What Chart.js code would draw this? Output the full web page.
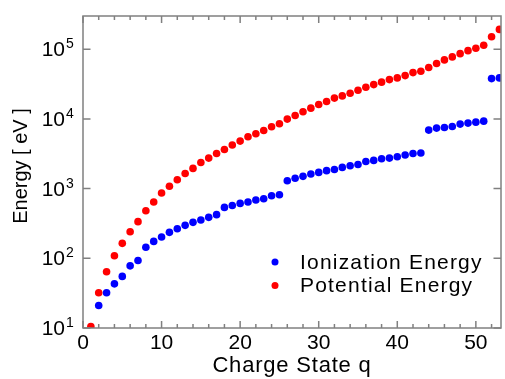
<!DOCTYPE html>
<html>
<head>
<meta charset="utf-8">
<script src="https://cdn.jsdelivr.net/npm/chart.js@4.4.0/dist/chart.umd.min.js"></script>
<style>
  html, body { margin: 0; padding: 0; background: #fff; }
  #wrap { width: 505px; height: 379px; }
</style>
</head>
<body>
<div id="wrap"><canvas id="chart" width="505" height="379"></canvas></div>
<script>
// charge state q for the potential energy series (1..53)
const chargeStates = [1, 2, 3, 4, 5, 6, 7, 8, 9, 10, 11, 12, 13, 14, 15, 16, 17, 18, 19, 20,
  21, 22, 23, 24, 25, 26, 27, 28, 29, 30, 31, 32, 33, 34, 35, 36, 37, 38, 39, 40,
  41, 42, 43, 44, 45, 46, 47, 48, 49, 50, 51, 52, 53];
// ionization energy starts at q = 2 in the plot
const ionStates = [2, 3, 4, 5, 6, 7, 8, 9, 10, 11, 12, 13, 14, 15, 16, 17, 18, 19, 20,
  21, 22, 23, 24, 25, 26, 27, 28, 29, 30, 31, 32, 33, 34, 35, 36, 37, 38, 39, 40,
  41, 42, 43, 44, 45, 46, 47, 48, 49, 50, 51, 52, 53];
const ionizationEnergy = [21, 32, 43, 55, 78, 93, 144, 175, 202, 236,
  266, 297, 328, 355, 387, 423, 538, 574, 614, 643,
  687, 717, 791, 818, 1300, 1410, 1500, 1620, 1710, 1810,
  1880, 2015, 2130, 2220, 2450, 2540, 2680, 2740, 2860, 3030,
  3190, 3240, 6920, 7390, 7540, 7790, 8430, 8710, 9000, 9300,
  37900, 38800];
const potentialEnergy = [10.5, 32, 64, 109, 164, 241, 336, 482, 643, 865,
  1080, 1340, 1650, 1950, 2370, 2740, 3190, 3640, 4220, 4810,
  5540, 6120, 6830, 7710, 8510, 9940, 11190, 12650, 14290, 16100,
  17800, 19900, 21400, 23400, 25850, 28550, 31100, 33700, 36700, 38800,
  41900, 46200, 48400, 54600, 62300, 70300, 77600, 86500, 95500, 103300,
  114100, 151500, 192800];

const xMajorTicks = [0, 10, 20, 30, 40, 50];
const xMinorTicks = [2, 4, 6, 8, 12, 14, 16, 18, 22, 24, 26, 28, 32, 34, 36, 38, 42, 44, 46, 48, 52];
const yTickExps = [1, 2, 3, 4, 5];

const FONT = '"Liberation Sans", Arial, Helvetica, sans-serif';
const axisColor = '#808080';

// wrap a scale's title drawing to nudge spacing/position a bit
function tweakTitle(scale, spacing, dy) {
  if (scale._titleWrapped) return;
  const orig = scale.drawTitle;
  scale.drawTitle = function () {
    this.ctx.save();
    this.ctx.letterSpacing = spacing;
    this.ctx.translate(0, dy);
    orig.call(this);
    this.ctx.restore();
  };
  scale._titleWrapped = true;
}

// inward ticks on all four sides, 10^n labels, in-plot legend
const framePlugin = {
  id: 'frame',
  afterDraw(chart) {
    const { ctx, chartArea: a, scales: { x, y } } = chart;
    ctx.save();
    ctx.strokeStyle = axisColor;
    ctx.lineWidth = 1.5;
    ctx.strokeRect(a.left, a.top, a.right - a.left, a.bottom - a.top);
    ctx.beginPath();
    xMajorTicks.concat(xMinorTicks).forEach((v) => {
      const px = x.getPixelForValue(v);
      const len = xMajorTicks.includes(v) ? 7 : 4;
      ctx.moveTo(px, a.bottom); ctx.lineTo(px, a.bottom - len);
      ctx.moveTo(px, a.top); ctx.lineTo(px, a.top + len);
    });
    yTickExps.forEach((e) => {
      const py = y.getPixelForValue(Math.pow(10, e));
      ctx.moveTo(a.left, py); ctx.lineTo(a.left + 7.5, py);
      ctx.moveTo(a.right, py); ctx.lineTo(a.right - 7.5, py);
    });
    ctx.stroke();

    ctx.fillStyle = '#000';
    ctx.textBaseline = 'alphabetic';
    yTickExps.forEach((e) => {
      const py = y.getPixelForValue(Math.pow(10, e));
      ctx.font = '21px ' + FONT;
      ctx.textAlign = 'right';
      ctx.fillText('10', 65, py + 7);
      ctx.font = '14px ' + FONT;
      ctx.textAlign = 'left';
      ctx.fillText(String(e), 66, py - 1);
    });

    // legend
    const rows = [{ y: 262, ds: chart.data.datasets[0] }, { y: 285.5, ds: chart.data.datasets[1] }];
    ctx.font = '21px ' + FONT;
    ctx.letterSpacing = '1.2px';
    ctx.textAlign = 'left';
    ctx.textBaseline = 'middle';
    rows.forEach((r) => {
      ctx.fillStyle = r.ds.backgroundColor;
      ctx.beginPath();
      ctx.arc(275, r.y, 3.5, 0, Math.PI * 2);
      ctx.fill();
      ctx.fillStyle = '#000';
      ctx.fillText(r.ds.label, 300, r.y + 1);
    });
    ctx.restore();
  }
};

new Chart(document.getElementById('chart'), {
  type: 'scatter',
  data: {
    datasets: [
      {
        label: 'Ionization Energy',
        data: ionStates.map((q, i) => ({ x: q, y: ionizationEnergy[i] })),
        backgroundColor: '#0000ff',
        borderWidth: 0,
        pointRadius: 3.8,
      },
      {
        label: 'Potential Energy',
        data: chargeStates.map((q, i) => ({ x: q, y: potentialEnergy[i] })),
        backgroundColor: '#ff0000',
        borderWidth: 0,
        pointRadius: 3.8,
      },
    ],
  },
  options: {
    responsive: false,
    animation: false,
    devicePixelRatio: 1,
    layout: { padding: { top: 16, right: 1, left: 0, bottom: 0 } },
    plugins: { legend: { display: false }, tooltip: { enabled: false } },
    scales: {
      x: {
        type: 'linear',
        min: 0,
        max: 53.2,
        grid: { display: false, drawTicks: false },
        border: { display: false },
        afterBuildTicks: (s) => { s.ticks = xMajorTicks.map((v) => ({ value: v })); },
        afterFit: (s) => { s.height = 51; tweakTitle(s, '0.8px', 0); },
        ticks: { color: '#000', font: { family: FONT, size: 21 }, padding: 3, maxRotation: 0 },
        title: { display: true, text: 'Charge State q', color: '#000', font: { family: FONT, size: 22 }, padding: { top: 0, bottom: 0 } },
      },
      y: {
        type: 'logarithmic',
        min: 10,
        max: 300000,
        grid: { display: false, drawTicks: false },
        border: { display: false },
        ticks: { display: false },
        afterFit: (s) => { s.width = 83; tweakTitle(s, '0px', -6); },
        title: { display: true, text: 'Energy [ eV ]', color: '#000', font: { family: FONT, size: 20 }, padding: { top: 9, bottom: 0 } },
      },
    },
  },
  plugins: [framePlugin],
});
</script>
</body>
</html>
